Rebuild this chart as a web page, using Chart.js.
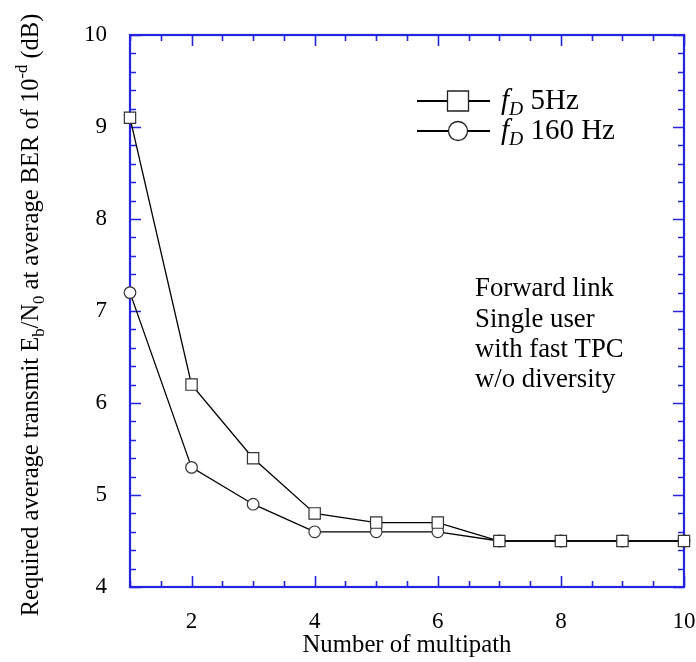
<!DOCTYPE html>
<html><head><meta charset="utf-8">
<script src="https://cdn.jsdelivr.net/npm/chart.js@4"></script>
<style>html,body{margin:0;padding:0;background:#fff}#wrap{width:696px;height:662px}</style>
</head><body><div id="wrap"><canvas id="c" width="696" height="662"></canvas></div>
<script>
const categories = [1, 2, 3, 4, 5, 6, 7, 8, 9, 10];
const fd5Hz = [9.1, 6.2, 5.4, 4.8, 4.7, 4.7, 4.5, 4.5, 4.5, 4.5];
const fd160Hz = [7.2, 5.3, 4.9, 4.6, 4.6, 4.6, 4.5, 4.5, 4.5, 4.5];
const xTickLabels = [2, 4, 6, 8, 10];
const yTickLabels = [4, 5, 6, 7, 8, 9, 10];
const seriesNames = ['5Hz', '160 Hz'];
const xTitle = 'Number of multipath';
const noteLines = ['Forward link', 'Single user', 'with fast TPC', 'w/o diversity'];

const FONT = '"Liberation Serif", "DejaVu Serif", serif';
const FRAME = '#2424e0';

function richWidth(ctx, parts, size) {
  let w = 0;
  ctx.save();
  for (const p of parts) {
    const s = p.shift ? size * 0.68 : size;
    ctx.font = (p.italic ? 'italic ' : '') + s + 'px ' + FONT;
    w += ctx.measureText(p.t).width;
  }
  ctx.restore();
  return w;
}
function fitSize(ctx, parts, target) {
  return 20 * target / richWidth(ctx, parts, 20);
}
function drawRich(ctx, parts, x, y, size) {
  let cx = x;
  ctx.textBaseline = 'middle';
  ctx.textAlign = 'left';
  for (const p of parts) {
    const s = p.shift ? size * 0.68 : size;
    ctx.font = (p.italic ? 'italic ' : '') + s + 'px ' + FONT;
    let dy = 0;
    if (p.shift === 'sub') dy = size * 0.32;
    if (p.shift === 'sup') dy = -size * 0.38;
    ctx.fillText(p.t, cx, y + dy);
    cx += ctx.measureText(p.t).width;
  }
}

const framePlugin = {
  id: 'frame',
  beforeDraw(chart) {
    const ctx = chart.ctx;
    ctx.save();
    ctx.fillStyle = '#fff';
    ctx.fillRect(0, 0, chart.width, chart.height);
    ctx.restore();
  },
  beforeDatasetsDraw(chart) {
    const ctx = chart.ctx;
    const a = chart.chartArea;
    const xs = chart.scales.x, ys = chart.scales.y;
    ctx.save();
    ctx.strokeStyle = FRAME;
    ctx.lineWidth = 1.6;
    for (let i = 0; i <= 18; i++) {
      const v = 1 + i * 0.5;
      const px = Math.round(xs.getPixelForValue(v)) + 0.5;
      const len = (Math.abs(v % 2) < 1e-6) ? 11 : 6;
      ctx.beginPath();
      ctx.moveTo(px, a.bottom); ctx.lineTo(px, a.bottom - len);
      ctx.moveTo(px, a.top); ctx.lineTo(px, a.top + len);
      ctx.stroke();
    }
    for (let i = 0; i <= 30; i++) {
      const v = 4 + i * 0.2;
      const py = Math.round(ys.getPixelForValue(v)) + 0.5;
      const len = (i % 5 === 0) ? 11 : 6;
      ctx.beginPath();
      ctx.moveTo(a.left, py); ctx.lineTo(a.left + len, py);
      ctx.moveTo(a.right, py); ctx.lineTo(a.right - len, py);
      ctx.stroke();
    }
    ctx.lineWidth = 2.2;
    ctx.strokeRect(a.left, a.top, a.right - a.left, a.bottom - a.top);
    ctx.restore();
  },
  afterDraw(chart) {
    const ctx = chart.ctx;
    const a = chart.chartArea;
    ctx.save();
    ctx.fillStyle = '#000';
    // y axis title
    const yParts = [
      {t: 'Required average transmit E'}, {t: 'b', shift: 'sub'}, {t: '/N'}, {t: '0', shift: 'sub'},
      {t: ' at average BER of 10'}, {t: '-d', shift: 'sup'}, {t: ' (dB)'}
    ];
    const ys = fitSize(ctx, yParts, 603);
    const w = richWidth(ctx, yParts, ys);
    ctx.translate(32, 315);
    ctx.rotate(-Math.PI / 2);
    drawRich(ctx, yParts, -w / 2, 0, ys);
    ctx.restore();

    // x axis title
    ctx.save();
    ctx.fillStyle = '#000';
    const xParts = [{t: xTitle}];
    const xsz = fitSize(ctx, xParts, 209);
    drawRich(ctx, xParts, (a.left + a.right) / 2 - 104.5, 645, xsz);
    ctx.restore();

    // legend
    ctx.save();
    const rows = [{y: 101, style: 'rect'}, {y: 131, style: 'circle'}];
    const legParts = i => [{t: 'f', italic: true}, {t: 'D', italic: true, shift: 'sub'}, {t: ' ' + seriesNames[i]}];
    const lsz = fitSize(ctx, legParts(1), 114);
    rows.forEach((r, i) => {
      ctx.strokeStyle = '#000';
      ctx.lineWidth = 1.8;
      ctx.beginPath();
      ctx.moveTo(417, r.y); ctx.lineTo(490, r.y); ctx.stroke();
      ctx.fillStyle = '#fff';
      ctx.strokeStyle = '#222';
      ctx.lineWidth = 1.3;
      ctx.beginPath();
      if (r.style === 'rect') ctx.rect(447.5, r.y - 10, 21, 20);
      else ctx.arc(458, r.y, 9.5, 0, Math.PI * 2);
      ctx.fill(); ctx.stroke();
      ctx.fillStyle = '#000';
      drawRich(ctx, legParts(i), 501, r.y, lsz);
    });
    // note text
    const nsz = fitSize(ctx, [{t: noteLines[0]}], 139);
    const noteY = [289, 320, 350, 380];
    ctx.fillStyle = '#000';
    noteLines.forEach((t, i) => drawRich(ctx, [{t}], 475, noteY[i], nsz));
    ctx.restore();
  }
};

const ctx = document.getElementById('c').getContext('2d');
new Chart(ctx, {
  type: 'line',
  data: {
    datasets: [
      {
        label: 'fD 5Hz',
        data: categories.map((c, i) => ({x: c, y: fd5Hz[i]})),
        borderColor: '#000', borderWidth: 1.3,
        pointStyle: 'rect', pointRadius: 8, pointBorderWidth: 1.2,
        pointBackgroundColor: '#fff', pointBorderColor: '#333',
        tension: 0, clip: false
      },
      {
        label: 'fD 160 Hz',
        data: categories.map((c, i) => ({x: c, y: fd160Hz[i]})),
        borderColor: '#000', borderWidth: 1.3,
        pointStyle: 'circle', pointRadius: 5.8, pointBorderWidth: 1.2,
        pointBackgroundColor: '#fff', pointBorderColor: '#333',
        tension: 0, clip: false
      }
    ]
  },
  options: {
    responsive: false,
    animation: false,
    devicePixelRatio: 1,
    layout: {padding: {top: 35, right: 12, left: 0, bottom: 0}},
    plugins: {legend: {display: false}, tooltip: {enabled: false}},
    scales: {
      x: {
        type: 'linear', min: 1, max: 10,
        grid: {display: false}, border: {display: false},
        afterBuildTicks: s => { s.ticks = xTickLabels.map(v => ({value: v})); },
        afterFit: s => { s.height = 75; s.paddingRight = 0; s.paddingLeft = 0; },
        ticks: {color: '#000', font: {family: FONT, size: 23}, padding: 13, maxRotation: 0}
      },
      y: {
        type: 'linear', min: 4, max: 10,
        grid: {display: false}, border: {display: false},
        afterBuildTicks: s => { s.ticks = yTickLabels.map(v => ({value: v})); },
        afterFit: s => { s.width = 130; s.paddingTop = 0; s.paddingBottom = 0; },
        ticks: {color: '#000', font: {family: FONT, size: 23}, padding: 15}
      }
    }
  },
  plugins: [framePlugin]
});
</script>
</body></html>
